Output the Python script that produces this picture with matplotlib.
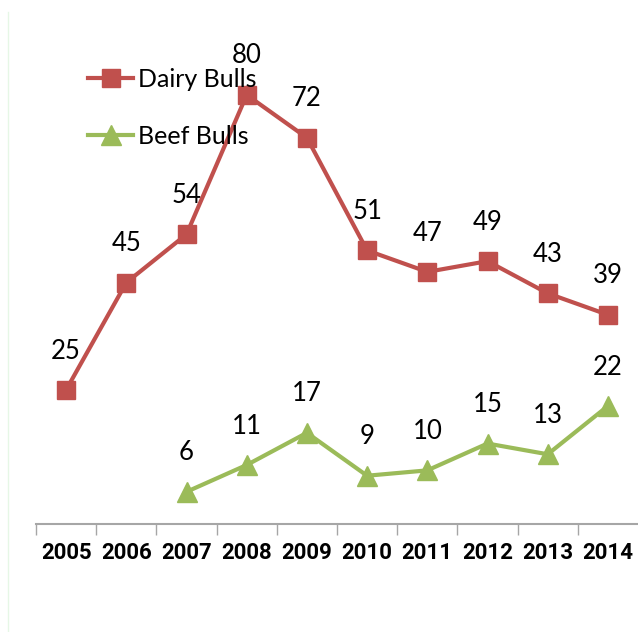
import matplotlib
matplotlib.use("Agg")
import matplotlib.pyplot as plt
from matplotlib.lines import Line2D
from matplotlib import font_manager

years = ["2005", "2006", "2007", "2008", "2009", "2010", "2011", "2012", "2013", "2014"]
dairy_bulls = [25, 45, 54, 80, 72, 51, 47, 49, 43, 39]
beef_years = ["2007", "2008", "2009", "2010", "2011", "2012", "2013", "2014"]
beef_bulls = [6, 11, 17, 9, 10, 15, 13, 22]

DAIRY_COLOR = "#C0504D"
BEEF_COLOR = "#9BBB59"

available = {f.name for f in font_manager.fontManager.ttflist}
label_family = [f for f in ["Lato", "DejaVu Sans"] if f in available]
if "Liberation Sans Narrow" in available:
    tick_font = dict(family="Liberation Sans Narrow", fontsize=18, fontweight="bold")
else:
    tick_font = dict(family=[f for f in ["Roboto", "DejaVu Sans"] if f in available],
                     fontsize=16, fontweight="bold")

fig = plt.figure(figsize=(6.38, 6.32), dpi=100)
ax = fig.add_axes([36 / 638, 108 / 632, 602 / 638, 504 / 632])

x_dairy = [years.index(y) for y in years]
x_beef = [years.index(y) for y in beef_years]

ax.plot(x_dairy, dairy_bulls, color=DAIRY_COLOR, lw=3, marker="s", ms=13,
        label="Dairy Bulls", clip_on=False, zorder=3)
ax.plot(x_beef, beef_bulls, color=BEEF_COLOR, lw=3, marker="^", ms=15,
        label="Beef Bulls", clip_on=False, zorder=3)

for xs, vals in ((x_dairy, dairy_bulls), (x_beef, beef_bulls)):
    for xi, v in zip(xs, vals):
        ax.annotate(str(v), (xi, v), xytext=(0, 28), textcoords="offset points",
                    ha="center", va="center", fontsize=18.5, family=label_family,
                    color="black", zorder=4)

ax.set_xlim(-0.5, 9.5)
ax.set_ylim(0, 504 / 5.364)

ax.set_xticks([i - 0.5 for i in range(10)], minor=False)
ax.set_xticklabels([])
ax.set_xticks(range(10), minor=True)
ax.set_xticklabels(years, minor=True, **tick_font)
ax.tick_params(axis="x", which="major", length=8, width=1, color="#A6A6A6", direction="out")
ax.tick_params(axis="x", which="minor", length=0, pad=13)
ax.set_yticks([])

for side in ("left", "right", "top"):
    ax.spines[side].set_visible(False)
ax.spines["bottom"].set_color("#A6A6A6")
ax.spines["bottom"].set_linewidth(1.5)

leg = ax.legend(loc="upper left", bbox_to_anchor=(88 / 638, 1 - 68 / 632),
                bbox_transform=fig.transFigure, frameon=False,
                prop={"family": label_family, "size": 18},
                handlelength=1.8, handletextpad=0.2, labelspacing=1.35,
                borderpad=0, borderaxespad=0)

# thin pale frame line on the left edge
fig.add_artist(Line2D([8 / 638, 8 / 638], [0, 1 - 12 / 632], transform=fig.transFigure,
                      color="#E6F7E6", lw=1))

fig.savefig("out.png", dpi=100)
